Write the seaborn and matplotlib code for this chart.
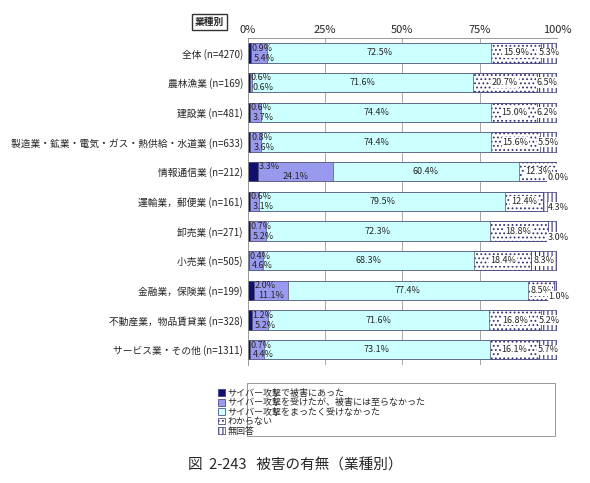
import matplotlib
matplotlib.use("Agg")
import matplotlib.pyplot as plt
import seaborn as sns
import pandas as pd
import numpy as np
from matplotlib.patches import Patch

sns.set_style("white")
plt.rcParams['font.family'] = ['Noto Sans CJK JP', 'DejaVu Sans']
plt.rcParams['hatch.linewidth'] = 0.8

categories = ["全体 (n=4270)", "農林漁業 (n=169)", "建設業 (n=481)",
              "製造業・鉱業・電気・ガス・熱供給・水道業 (n=633)", "情報通信業 (n=212)",
              "運輸業，郵便業 (n=161)", "卸売業 (n=271)", "小売業 (n=505)",
              "金融業，保険業 (n=199)", "不動産業，物品賃貸業 (n=328)", "サービス業・その他 (n=1311)"]
damaged = [0.9, 0.6, 0.6, 0.8, 3.3, 0.6, 0.7, 0.4, 2.0, 1.2, 0.7]
attacked_no_damage = [5.4, 0.6, 3.7, 3.6, 24.1, 3.1, 5.2, 4.6, 11.1, 5.2, 4.4]
not_attacked = [72.5, 71.6, 74.4, 74.4, 60.4, 79.5, 72.3, 68.3, 77.4, 71.6, 73.1]
unknown = [15.9, 20.7, 15.0, 15.6, 12.3, 12.4, 18.8, 18.4, 8.5, 16.8, 16.1]
no_answer = [5.3, 6.5, 6.2, 5.5, 0.0, 4.3, 3.0, 8.3, 1.0, 5.2, 5.7]
series_names = ["サイバー攻撃で被害にあった", "サイバー攻撃を受けたが、被害には至らなかった",
                "サイバー攻撃をまったく受けなかった", "わからない", "無回答"]

series = [damaged, attacked_no_damage, not_attacked, unknown, no_answer]
faces = ["#10106e", "#9999ee", "#ccffff", "white", "white"]
hatches = [None, None, None, "....", "||||"]

fig = plt.figure(figsize=(5.9, 4.83), dpi=100)
ax = fig.add_axes([0.42, 0.245, 0.524, 0.676])

cum = np.cumsum(np.array(series), axis=0)
n = len(categories)
for i in range(4, -1, -1):
    df = pd.DataFrame({"cat": categories, "v": cum[i]})
    sns.barplot(data=df, x="v", y="cat", orient="h", color=faces[i], ax=ax,
                width=0.65, edgecolor="#555577", linewidth=0.5, saturation=1)
    if hatches[i]:
        for p in ax.patches[-n:]:
            p.set_hatch(hatches[i]); p.set_edgecolor("#333377")

ax.set_xlim(0, 100)
ax.set_xlabel(""); ax.set_ylabel("")
ax.xaxis.tick_top()
ax.set_xticks([0, 25, 50, 75, 100])
ax.set_xticklabels(["0%", "25%", "50%", "75%", "100%"], fontsize=8)
ax.tick_params(axis='y', labelsize=7, length=0)
ax.tick_params(axis='x', length=0, pad=2)
for x in [25, 50, 75]:
    ax.axvline(x, color="#999999", lw=0.6, zorder=0)
for s in ax.spines.values():
    s.set_color("#888888"); s.set_linewidth(0.6)
ax.spines['right'].set_visible(False)
ax.spines['bottom'].set_visible(False)

fs = 6.5
wb = dict(facecolor="white", edgecolor="none", pad=0.5)
for j in range(n):
    ax.text(cum[0][j] + 0.3, j - 0.16, f"{damaged[j]:.1f}%", fontsize=fs, va="center", ha="left")
    if attacked_no_damage[j] > 10:
        ax.text((cum[0][j] + cum[1][j]) / 2, j + 0.17, f"{attacked_no_damage[j]:.1f}%", fontsize=fs,
                va="center", ha="center")
    else:
        ax.text(cum[0][j] + 1.0, j + 0.17, f"{attacked_no_damage[j]:.1f}%", fontsize=fs,
                va="center", ha="left")
    ax.text((cum[1][j] + cum[2][j]) / 2, j, f"{not_attacked[j]:.1f}%", fontsize=fs, va="center", ha="center")
    ax.text((cum[2][j] + cum[3][j]) / 2, j, f"{unknown[j]:.1f}%", fontsize=fs, va="center", ha="center", bbox=wb)
    if no_answer[j] >= 5:
        ax.text((cum[3][j] + cum[4][j]) / 2, j, f"{no_answer[j]:.1f}%", fontsize=fs, va="center", ha="center", bbox=wb)
    else:
        ax.text(100.5, j + 0.2, f"{no_answer[j]:.1f}%", fontsize=fs, va="center", ha="center",
                bbox=dict(facecolor="white", edgecolor="none", pad=0.3), clip_on=False)

fig.text(0.355, 0.955, "業種別", fontsize=7, fontweight="bold", ha="center", va="center",
         bbox=dict(facecolor="white", edgecolor="#333333", pad=2))

handles = [Patch(facecolor=faces[i], edgecolor="#333377", hatch=hatches[i], linewidth=0.5) for i in range(5)]
leg = fig.legend(handles, series_names, loc="upper center", bbox_to_anchor=(0.545, 0.21),
                 fontsize=6.5, frameon=False, handlelength=0.8, handleheight=0.8,
                 handletextpad=0.3, labelspacing=0.05, borderpad=0.3)
fig.patches.append(matplotlib.patches.Rectangle((0.418, 0.097), 0.523, 0.11, transform=fig.transFigure,
                                                fill=False, edgecolor="#888888", linewidth=0.6))
fig.text(0.5, 0.037, "図  2-243   被害の有無（業種別）", fontsize=10.5, ha="center", va="center")
fig.savefig("out.png", dpi=100, facecolor="white")
